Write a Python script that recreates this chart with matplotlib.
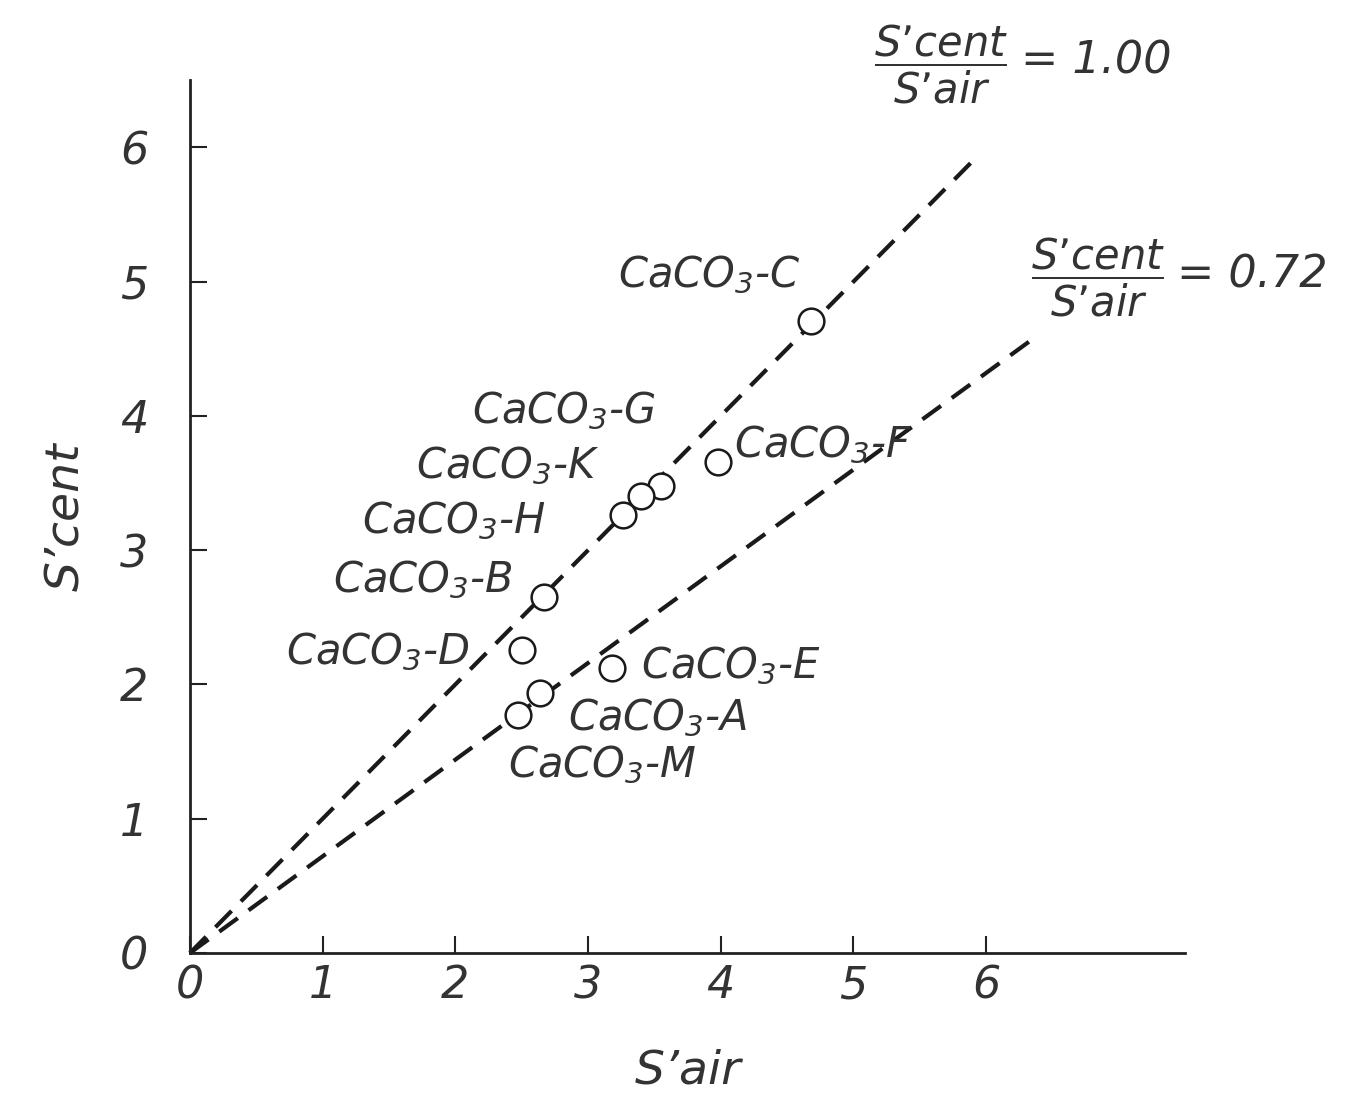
import matplotlib.pyplot as plt
import numpy as np

plt.rcParams['font.family'] = ['DejaVu Sans']
plt.rcParams['font.style'] = 'italic'
plt.rcParams['mathtext.default'] = 'regular'

# samples
names = ["C", "G", "K", "H", "F", "B", "D", "E", "A", "M"]
s_air = [4.68, 3.55, 3.40, 3.26, 3.98, 2.67, 2.50, 3.18, 2.64, 2.47]
s_cent = [4.71, 3.48, 3.40, 3.26, 3.66, 2.65, 2.26, 2.12, 1.94, 1.77]

# label anchor per sample (x, y, ha)
label_pos = {
    "C": (4.60, 5.05, "right"),
    "G": (3.51, 4.04, "right"),
    "K": (3.09, 3.63, "right"),
    "H": (2.68, 3.22, "right"),
    "B": (2.43, 2.78, "right"),
    "D": (2.11, 2.24, "right"),
    "F": (4.10, 3.78, "left"),
    "E": (3.40, 2.14, "left"),
    "A": (2.85, 1.75, "left"),
    "M": (2.40, 1.40, "left"),
}

# ratio lines
ratios = [1.00, 0.72]
ratio_x_end = [5.95, 6.35]
ratio_text = ["1.00", "0.72"]
ratio_text_pos = [(5.66, 6.62), (6.84, 5.03)]

fig = plt.figure(figsize=(13.54, 10.95), dpi=100)
ax = fig.add_axes([0.1403, 0.1297, 0.735, 0.797])
ax.set_xlim(0, 7.5)
ax.set_ylim(0, 6.5)

for r, xe in zip(ratios, ratio_x_end):
    xs = np.array([0, xe])
    ax.plot(xs, r * xs, color='#1a1a1a', lw=3, linestyle=(0, (5.5, 3.2)),
            clip_on=False)

ax.plot(s_air, s_cent, 'o', ms=18.5, mfc='white', mec='#1a1a1a', mew=1.8,
        zorder=5, clip_on=False)

for n in names:
    x, y, ha = label_pos[n]
    ax.text(x, y, "CaCO$_3$-" + n, ha=ha, va='center', fontsize=30,
            color='#333333')

for t, (x, y) in zip(ratio_text, ratio_text_pos):
    ax.text(x, y, r"$\dfrac{S’cent}{S’air}$", ha='center', va='center',
            fontsize=30, color='#333333')
    ax.text(x + 0.6, y + 0.02, "= " + t, ha='left', va='center',
            fontsize=32, color='#333333')

ax.spines['top'].set_visible(False)
ax.spines['right'].set_visible(False)
for s in ['left', 'bottom']:
    ax.spines[s].set_linewidth(2)
    ax.spines[s].set_color('#222222')

ax.set_xticks(range(7))
ax.set_yticks(range(7))
ax.tick_params(direction='in', length=12, width=1.5, labelsize=32,
               colors='#222222', labelcolor='#333333', pad=8)
ax.tick_params(axis='y', pad=30)
ax.set_xlabel("S’air", fontsize=34, color='#333333', labelpad=30)
ax.set_ylabel("S’cent", fontsize=34, color='#333333', labelpad=22)

fig.savefig("out.png", dpi=100, facecolor='white')
